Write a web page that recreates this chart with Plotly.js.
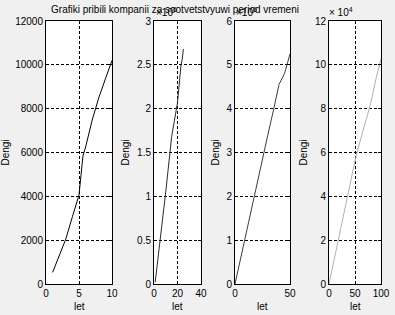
<!DOCTYPE html>
<html>
<head>
<meta charset="utf-8">
<script src="https://cdn.plot.ly/plotly-3.0.1.min.js"></script>
<style>html,body{margin:0;padding:0;background:#f0f0f0;}#chart{width:395px;height:315px;}</style>
</head>
<body>
<div id="chart"></div>
<script>
// Data
const years1 = [1, 2, 3, 4, 5, 5.6, 6, 7, 8, 9, 10];
const profit1 = [530, 1290, 2050, 3070, 4060, 5850, 6250, 7480, 8500, 9360, 10200];
const years2 = [1, 5, 10, 15, 20, 23, 24, 25];
const profit2 = [20000, 470000, 1050000, 1680000, 2070000, 2500000, 2560000, 2680000];
const years3 = [0, 5, 10, 15, 20, 25, 30, 35, 40, 45, 50];
const profit3 = [0, 580000, 1150000, 1720000, 2270000, 2870000, 3420000, 3970000, 4550000, 4800000, 5250000];
const years4 = [0, 10, 20, 30, 40, 50, 60, 70, 80, 90, 100];
const profit4 = [0, 11400, 22700, 33700, 44600, 56200, 65400, 73500, 82200, 93300, 102600];

const titleText = 'Grafiki pribili kompanii za sootvetstvyuwi period vremeni';
const xLabel = 'let';
const yLabel = 'Dengi';

const W = 395, H = 315;
const px = v => v / W;
const py = v => 1 - v / H;
const FONT = {family: 'Liberation Sans, Arial, sans-serif', size: 10, color: '#000'};

const traces = [
  {x: years1, y: profit1, xaxis: 'x', yaxis: 'y', line: {color: '#000000', width: 1}},
  {x: years2, y: profit2.map(v => v / 1e6), xaxis: 'x2', yaxis: 'y2', line: {color: '#2a2a2a', width: 1}},
  {x: years3, y: profit3.map(v => v / 1e6), xaxis: 'x3', yaxis: 'y3', line: {color: '#3c3c3c', width: 1}},
  {x: years4, y: profit4.map(v => v / 1e4), xaxis: 'x4', yaxis: 'y4', line: {color: '#b0b0b0', width: 1}}
].map(t => Object.assign({type: 'scatter', mode: 'lines', hoverinfo: 'skip', showlegend: false}, t));

const common = {
  showline: true, linecolor: '#000', linewidth: 1, mirror: 'ticks',
  ticks: 'inside', ticklen: 3, tickcolor: '#000',
  showgrid: true, gridcolor: '#000', gridwidth: 1, griddash: '3px,2px',
  zeroline: false, tickfont: FONT, fixedrange: true,
  exponentformat: 'none', separatethousands: false
};
const yDomain = [py(284), py(21)];
const axes = [
  {xd: [46, 112], xr: [0, 10], xdt: 5, yr: [0, 12000], ydt: 2000},
  {xd: [154, 201], xr: [0, 40], xdt: 20, yr: [0, 3], ydt: 0.5},
  {xd: [235, 290], xr: [0, 50], xdt: 50, yr: [0, 6], ydt: 1},
  {xd: [329, 381], xr: [0, 100], xdt: 50, yr: [0, 12], ydt: 2}
];

const layout = {
  width: W, height: H,
  margin: {l: 0, r: 0, t: 0, b: 0},
  paper_bgcolor: '#f0f0f0', plot_bgcolor: '#ffffff',
  font: FONT,
  showlegend: false,
  separators: '.',
  title: {text: titleText, font: FONT, x: px(175), xanchor: 'center', y: py(9), yanchor: 'middle', xref: 'paper', yref: 'paper'},
  annotations: []
};

axes.forEach((a, i) => {
  const n = i === 0 ? '' : String(i + 1);
  layout['xaxis' + n] = Object.assign({}, common, {
    domain: [px(a.xd[0]), px(a.xd[1])], range: a.xr, dtick: a.xdt, tick0: 0,
    anchor: 'y' + n
  });
  layout['yaxis' + n] = Object.assign({}, common, {
    domain: yDomain, range: a.yr, dtick: a.ydt, tick0: 0,
    anchor: 'x' + n
  });
});

const yTitleX = [5, 125, 215, 303];
yTitleX.forEach(x => layout.annotations.push({
  text: yLabel, xref: 'paper', yref: 'paper', x: px(x), y: py(152.5),
  xanchor: 'center', yanchor: 'middle', textangle: -90, showarrow: false, font: FONT
}));
axes.forEach(a => layout.annotations.push({
  text: xLabel, xref: 'paper', yref: 'paper', x: px((a.xd[0] + a.xd[1]) / 2), y: py(306),
  xanchor: 'center', yanchor: 'middle', showarrow: false, font: FONT
}));
const expo = [{x: 154, t: '×10<sup>6</sup>'}, {x: 234, t: '×10<sup>6</sup>'}, {x: 327, t: '× 10<sup>4</sup>'}];
expo.forEach(e => layout.annotations.push({
  text: e.t, xref: 'paper', yref: 'paper', x: px(e.x), y: py(20),
  xanchor: 'left', yanchor: 'bottom', showarrow: false, font: FONT
}));

Plotly.newPlot('chart', traces, layout, {displayModeBar: false, staticPlot: true});
</script>
</body>
</html>
